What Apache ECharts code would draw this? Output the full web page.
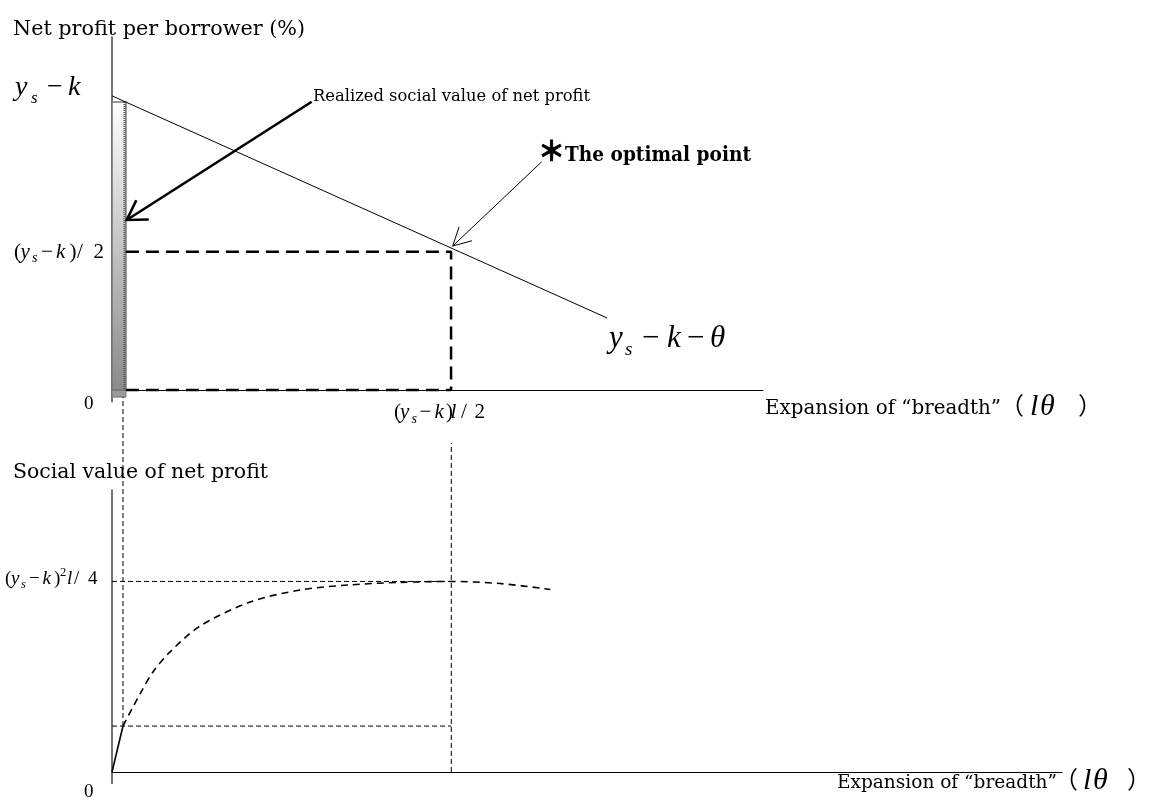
<!DOCTYPE html>
<html><head><meta charset="utf-8">
<script src="https://cdn.jsdelivr.net/npm/echarts@6/dist/echarts.min.js"></script>
<style>html,body{margin:0;padding:0;background:#fff}#c{width:1156px;height:800px}</style>
</head><body><div id="c"></div>
<script>
// ---------- data (model units) ----------
const profitX = [0, 73];            // net profit per borrower line
const profitY = [100, 24.5];
const optimalX = 50;                // optimal breadth
const optimalY = 47;                // (ys-k)/2 level
const barX = [0, 2.05];             // realized breadth bar
const barTop = 97.9;
const barBase = -2.4;
const curveX = [1.62, 4.13, 6.04, 8.55, 12.97, 20.34, 27.7, 35.07, 42.44, 50, 57.2, 64.6];
const curveY = [24.1, 41.0, 52.5, 63.0, 76.6, 89.2, 95.5, 98.2, 99.5, 100, 98.9, 95.8];
const peakY = 100;
const realizedX = 1.62;
const realizedY = 24.1;
const guideTopRealized = 196.9;     // upper end of guide at realized breadth (bottom panel units)
const guideTopOptimal = 172.7;
const arrowBig = [29.45, 98.0, 2.17, 57.8];
const arrowThin = [63.37, 77.6, 50.24, 48.95];

// ---------- fonts / text helpers ----------
const TXT = '"DejaVu Serif", serif';
const MATH = '"Liberation Serif", "Times New Roman", serif';
const CJK = '"Noto Sans CJK JP", sans-serif';
const mctx = document.createElement('canvas').getContext('2d');
function mkFont(size, o){ return (o.i?'italic ':'')+(o.b?'bold ':'')+size+'px '+(o.f||TXT); }
function T(str, x, base, size, o){
  o = o || {};
  const font = mkFont(size, o);
  mctx.font = font; mctx.textBaseline = 'middle';
  const off = mctx.measureText('H').actualBoundingBoxDescent;
  const st = {text:str, font:font, fill:'#000', align:'left', verticalAlign:'middle', textAlign:'left', textVerticalAlign:'middle'};
  if (o.sw) { st.stroke = '#000'; st.lineWidth = o.sw; }
  const el = {type:'text', x:x, y:base-off, silent:true, z:10, style:st};
  if (o.w) { const w = mctx.measureText(str).width; el.scaleX = o.w / w; }
  return el;
}
// part: [text, x, size, dyBaseline, italic]
function M(parts, base){
  return parts.map(p => T(p[0], p[1], base + (p[3]||0), p[2], {f:MATH, i:!!p[4]}));
}
const graphics = [];
graphics.push(T('Net profit per borrower (%)', 13, 35, 21, {w:292}));
graphics.push(T('Social value of net profit', 13, 477.5, 20.5, {w:255}));
graphics.push(T('Realized social value of net profit', 313, 101, 17, {w:277}));
graphics.push(T('＊', 538, 161, 27, {f:CJK, b:true, sw:0.9}));
graphics.push(T('The optimal point', 565, 161, 20, {b:true, w:186}));
// axis-end labels
graphics.push(T('Expansion of “breadth”', 765, 414, 20, {w:236}));
graphics.push(T('（', 1000, 414, 24, {f:CJK}));
graphics.push(T('l', 1030, 415, 30, {f:MATH, i:true}));
graphics.push(T('θ', 1040, 415, 30, {f:MATH, i:true}));
graphics.push(T('）', 1078, 414, 24, {f:CJK}));
graphics.push(T('Expansion of “breadth”', 837, 788, 19, {w:220}));
graphics.push(T('（', 1054, 788, 24, {f:CJK}));
graphics.push(T('l', 1083, 789, 30, {f:MATH, i:true}));
graphics.push(T('θ', 1093, 789, 30, {f:MATH, i:true}));
graphics.push(T('）', 1127, 788, 24, {f:CJK}));
// zeros
graphics.push(T('0', 84, 409, 19, {f:MATH}));
graphics.push(T('0', 84, 797, 19, {f:MATH}));
// math labels
graphics.push(...M([['y',15,28,0,1],['s',31,17,8,1],['−',47,28,0,0],['k',68,28,0,1]], 95));
graphics.push(...M([['(',14,21,0,0],['y',20.5,21,0,1],['s',32,14,4.5,1],['−',41,21,0,0],['k',56,21,0,1],[')',69.5,21,0,0],['/',77,21,0,0],['2',93.5,21,0,0]], 257.7));
graphics.push(...M([['(',394,21,0,0],['y',400,21,0,1],['s',411.5,14,4.5,1],['−',419.5,21,0,0],['k',434.5,21,0,1],[')',446,21,0,0],['l',450.5,21,0,1],['/',461,21,0,0],['2',474.5,21,0,0]], 418.3));
graphics.push(...M([['(',5,19,0,0],['y',11,19,0,1],['s',21,12.5,4,1],['−',29,19,0,0],['k',42.5,19,0,1],[')',54,19,0,0],['2',60,12.5,-8.5,0],['l',67,19,0,1],['/',74,19,0,0],['4',88,19,0,0]], 584));
graphics.push(...M([['y',609,31,0,1],['s',625,19,8,1],['−',642,31,0,0],['k',667,31,0,1],['−',687,31,0,0],['θ',710,31,0,1]], 347));

// ---------- series ----------
const series = [];
function seg(data, gi, color, width, dash, extra){
  series.push(Object.assign({type:'line', xAxisIndex:gi, yAxisIndex:gi, data:data, symbol:'none', silent:true,
    lineStyle:{color:color, width:width, type:dash||'solid'}}, extra||{}));
}
function zip(a,b){ return a.map((v,i)=>[v,b[i]]); }
function arrow(vals, gi, width, head, ang){
  series.push({type:'custom', xAxisIndex:gi, yAxisIndex:gi, data:[vals], silent:true, z:5,
    encode:{x:[0,2], y:[1,3]},
    renderItem(params, api){
      const a = api.coord([api.value(0), api.value(1)]);
      const b = api.coord([api.value(2), api.value(3)]);
      const t = Math.atan2(a[1]-b[1], a[0]-b[0]);
      const p1 = [b[0]+head*Math.cos(t+ang), b[1]+head*Math.sin(t+ang)];
      const p2 = [b[0]+head*Math.cos(t-ang), b[1]+head*Math.sin(t-ang)];
      return {type:'group', children:[
        {type:'line', shape:{x1:a[0], y1:a[1], x2:b[0], y2:b[1]}, style:{stroke:'#000', lineWidth:width}},
        {type:'polyline', shape:{points:[p1, b, p2]}, style:{stroke:'#000', lineWidth:width, fill:null}}
      ]};
    }});
}
// realized bar (top panel)
series.push({type:'custom', xAxisIndex:0, yAxisIndex:0, data:[[barX[0], barX[1], barTop, barBase]], silent:true, z:3,
  encode:{x:[0,1], y:[2,3]},
  renderItem(params, api){
    const tl = api.coord([api.value(0), api.value(2)]);
    const br = api.coord([api.value(1), 0]);
    const bb = api.coord([api.value(1), api.value(3)]);
    const grad = new echarts.graphic.LinearGradient(0,0,0,1,[{offset:0,color:'#ffffff'},{offset:1,color:'#8a8a8a'}]);
    return {type:'group', children:[
      {type:'rect', shape:{x:tl[0], y:br[1], width:br[0]-tl[0], height:bb[1]-br[1]}, style:{fill:'#9a9a9a', stroke:'#777', lineWidth:1}},
      {type:'rect', shape:{x:tl[0], y:tl[1], width:br[0]-tl[0], height:br[1]-tl[1]}, style:{fill:grad, stroke:'#777', lineWidth:1.6}},
      {type:'line', shape:{x1:br[0]-1.5, y1:tl[1], x2:br[0]-1.5, y2:br[1]}, style:{stroke:'#555', lineWidth:2, lineDash:[1,1]}}
    ]};
  }});
seg(zip(profitX, profitY), 0, '#000', 1);
seg([[barX[1], optimalY],[optimalX, optimalY],[optimalX, 0]], 0, '#000', 2.5, [13,7]);
seg([[barX[1], 0],[optimalX, 0]], 0, '#000', 2.5, [13,7]);
arrow(arrowBig, 0, 2.6, 22, 0.55);
arrow(arrowThin, 0, 1, 20, 0.49);
// bottom panel
seg([[0,0],[realizedX, realizedY]], 1, '#000', 1.6);
seg(zip(curveX, curveY), 1, '#000', 1.6, [7,5], {smooth:0.3});
seg([[0, peakY],[optimalX, peakY]], 1, '#000', 1, [5,3]);
seg([[0, realizedY],[optimalX, realizedY]], 1, '#000', 1, [5,3]);
seg([[realizedX, realizedY],[realizedX, guideTopRealized]], 1, '#000', 1, [5,3], {clip:false});
seg([[optimalX, 0],[optimalX, guideTopOptimal]], 1, '#000', 1, [5,3], {clip:false});

const hidden = {axisTick:{show:false}, axisLabel:{show:false}, splitLine:{show:false}};
const option = {
  animation:false,
  backgroundColor:'#fff',
  grid:[
    {left:112, top:37, width:651, height:364.8},
    {left:112, top:490, width:950, height:293.4}
  ],
  xAxis:[
    Object.assign({type:'value', gridIndex:0, min:0, max:96, axisLine:{onZero:true, lineStyle:{color:'#000', width:1}}}, hidden),
    Object.assign({type:'value', gridIndex:1, min:0, max:140, axisLine:{onZero:true, lineStyle:{color:'#000', width:1}}}, hidden)
  ],
  yAxis:[
    Object.assign({type:'value', gridIndex:0, min:-4, max:120, axisLine:{show:true, onZero:false, lineStyle:{color:'#444', width:1.5}}}, hidden),
    Object.assign({type:'value', gridIndex:1, min:-6, max:148, axisLine:{show:true, onZero:false, lineStyle:{color:'#444', width:1.5}}}, hidden)
  ],
  series:series,
  graphic:graphics
};
const chart = echarts.init(document.getElementById('c'), null, {renderer:'canvas'});
chart.setOption(option);
</script>
</body></html>
